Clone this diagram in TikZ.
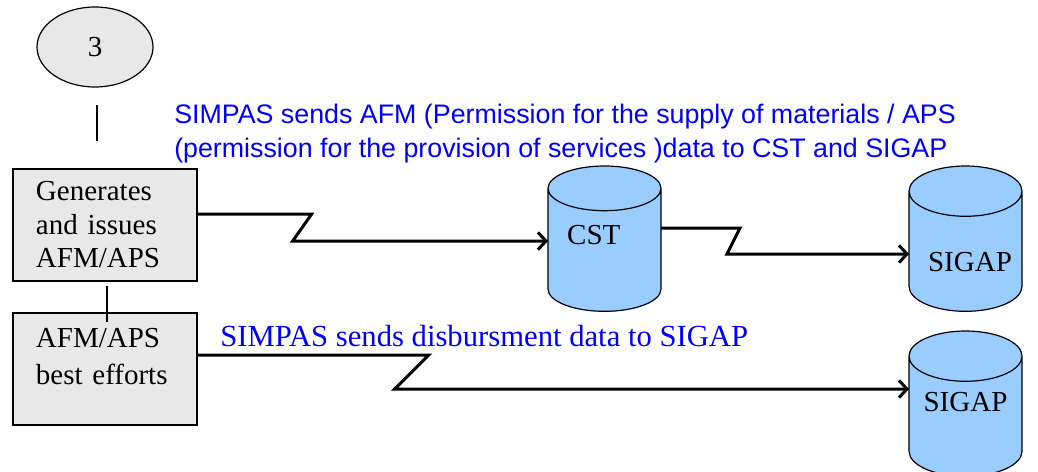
\documentclass[tikz,border=0pt]{standalone}
\usepackage{fontspec}
\setmainfont{Liberation Serif}
\newfontfamily\arialfont{Liberation Sans}
\usetikzlibrary{calc,shapes.geometric,arrows.meta}
\definecolor{boxgray}{HTML}{E8E8E8}
\definecolor{dbblue}{HTML}{99CCFF}

\begin{document}
\begin{tikzpicture}[x=0.75pt,y=-0.75pt]
            \tikzstyle{every node}=[font=\fontsize{21.75}{25.1}\selectfont]
            \tikzstyle{proc}=[rectangle,draw,line width=1pt,fill=boxgray,text width=103.5pt,inner xsep=17.25pt,minimum height=84pt,align=left]
            \tikzstyle{db}=[cylinder,shape border rotate=90,draw,line width=0.9pt,fill=dbblue,aspect=0.6,minimum width=84.75pt,minimum height=109pt,inner sep=0pt,outer sep=0pt,anchor=north]
            \tikzstyle{flow}=[line width=2.25pt,-{Straight Barb[length=6pt,width=13pt]}]
            \tikzstyle{note}=[anchor=base west,text=blue,align=left,inner sep=0pt]
            \useasboundingbox (0,0) rectangle (1038,471);
            \node[ellipse,draw,line width=0.9pt,fill=boxgray,minimum width=87pt,minimum height=60pt] (three) at (95,47) {3};
            \coordinate (tickTop) at (97,105);
            \coordinate (tickBot) at (97,141);
            \draw[line width=1pt] (tickTop) -- (tickBot);
            \node[proc] (gen) at (105,225) {Generates\\and issues\\AFM/APS};
            \node[proc] (best) at (105,369) {AFM/APS\\[2.4pt]best efforts\\[-6.6pt]\mbox{}};
            \draw[line width=1pt] ([xshift=1.5pt,yshift=-3pt]gen.south) -- ([xshift=1.5pt,yshift=-7.5pt]best.north);
            % databases
            \node[db] (cst) at (604.5,166) {\raisebox{11pt}[\height][\depth]{CST}\hspace*{16pt}};
            \node[db] (sigapA) at (965.5,166) {\phantom{SIGAP}};
            \node at (970,262) {SIGAP};
            \node[db] (sigapB) at (965.5,331) {\raisebox{11pt}[\height][\depth]{SIGAP}};
            % labels
            \node[note,font=\arialfont\fontsize{20.1}{25.5}\selectfont] (afmnote) at (174,157)
                {SIMPAS sends AFM (Permission for the supply of materials / APS\\(permission for the provision of services )data to CST and SIGAP};
            \node[note,font=\fontsize{23}{27}\selectfont] (paynote) at (220,346) {SIMPAS sends disbursment data to SIGAP};
            \draw[flow] ([yshift=8.25pt]gen.east) -- ++(114,0) -- ++(-19,27) -- (cst.west |- 0,241);
            \draw[flow] (cst.east |- 0,228) -- ++(79,0) -- ++(-13,26) -- (sigapA.west |- 0,254);
            \draw[flow] ([yshift=10.5pt]best.east) -- ++(231,0) -- ++(-34,34) -- (sigapB.west |- 0,389);
\end{tikzpicture}
\end{document}
